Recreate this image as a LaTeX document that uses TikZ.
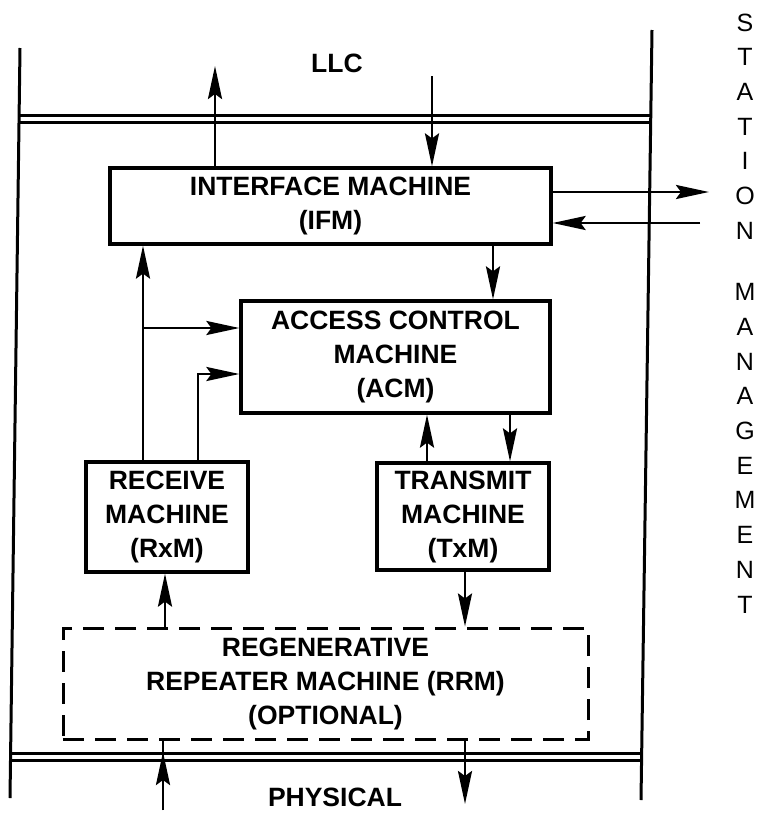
\documentclass[tikz,border=0pt]{standalone}
\usepackage{fontspec}
\setmainfont{Liberation Sans}
\usetikzlibrary{arrows.meta}
\begin{document}
\begin{tikzpicture}[x=1pt,y=-1pt,
  box/.style={draw, line width=3.2pt, inner sep=0pt, align=center,
    font=\fontsize{26.5}{34}\selectfont\bfseries},
  dbox/.style={box, line width=3pt, dash pattern=on 21pt off 11pt},
  lbl/.style={font=\fontsize{26.5}{34}\selectfont\bfseries, inner sep=0pt},
  sm/.style={font=\fontsize{25}{30}\selectfont, inner sep=0pt},
  con/.style={line width=2.8pt},
  arr/.style={con, -{Stealth[length=33pt,width=14pt,inset=5pt]}},
  rail/.style={line width=3pt},
]
\useasboundingbox (0,0) rectangle (758,819);

% frame lines
\coordinate (lt) at (20,48);
\coordinate (lb) at (10,798);
\coordinate (rt) at (652,30);
\coordinate (rb) at (641,800);
\draw[rail] (lt) -- (lb);
\draw[rail] (rt) -- (rb);
\draw[rail] (19.3,115.5) -- (650.2,115.5);
\draw[rail] (19.3,122.5) -- (650.0,122.5);
\draw[rail] (11.5,753.5) -- (642.4,753.5);
\draw[rail] (11.4,760.5) -- (642.2,760.5);

% labels
\node[lbl] (llc) at (337,63) {LLC};
\node[lbl] (phy) at (335,797) {PHYSICAL};
\foreach \ch/\yy [count=\i] in {S/23,T/57,A/92,T/127,I/161,O/196,N/231,M/292,A/327,N/362,A/396,G/431,E/466,M/500,E/535,N/570,T/605}
  \node[sm] (sm\i) at (745,\yy) {\ch};

% boxes
\node[box, minimum width=441pt, minimum height=76pt] (ifm) at (330.5,206) {INTERFACE MACHINE\\(IFM)};
\node[box, minimum width=309pt, minimum height=112pt] (acm) at (395.5,357) {ACCESS CONTROL\\MACHINE\\(ACM)};
\node[box, minimum width=162pt, minimum height=110pt] (rxm) at (167,517) {RECEIVE\\MACHINE\\(RxM)};
\node[box, minimum width=172pt, minimum height=107pt] (txm) at (463,516.5) {TRANSMIT\\MACHINE\\(TxM)};
\node[dbox, minimum width=525pt, minimum height=111pt] (rrm) at (325.5,683.5) {REGENERATIVE\\REPEATER MACHINE (RRM)\\(OPTIONAL)};

% LLC arrows
\coordinate (llcout) at (215,66);
\coordinate (llcin) at (432,76);
\draw[arr] (llcout |- ifm.north) -- (llcout);
\draw[arr] (llcin) -- (llcin |- ifm.north);

% station management arrows
\coordinate (smout) at (709,192);
\coordinate (smin) at (700,223);
\draw[arr] (smout -| ifm.east) -- (smout);
\draw[arr] (smin) -- (smin -| ifm.east);

% IFM -> ACM
\coordinate (ia) at (493,280);
\draw[arr] (ia |- ifm.south) -- (ia |- acm.north);

% RxM -> IFM and ACM
\coordinate (b1) at (143,328);
\coordinate (b2) at (198,374);
\draw[arr] (b1 |- rxm.north) -- (b1 |- ifm.south);
\draw[arr] (b1) -- (b1 -| acm.west);
\draw[arr] (b2 |- rxm.north) -- (b2) -- (b2 -| acm.west);

% ACM <-> TxM
\coordinate (ta) at (427,440);
\coordinate (at) at (510,440);
\draw[arr] (ta |- txm.north) -- (ta |- acm.south);
\draw[arr] (at |- acm.south) -- (at |- txm.north);

% RRM connections
\coordinate (rr) at (165,600);
\coordinate (tr) at (465,600);
\draw[arr] (rr |- rrm.north) -- (rr |- rxm.south);
\draw[arr] (tr |- txm.south) -- (tr |- rrm.north);

% physical
\coordinate (pin) at (163,810);
\coordinate (pout) at (465,804);
\draw[con] (pin) -- (pin |- rrm.south);
\draw[arr] (pin) -- (163,752);
\draw[arr] (pout |- rrm.south) -- (pout);
\end{tikzpicture}
\end{document}
